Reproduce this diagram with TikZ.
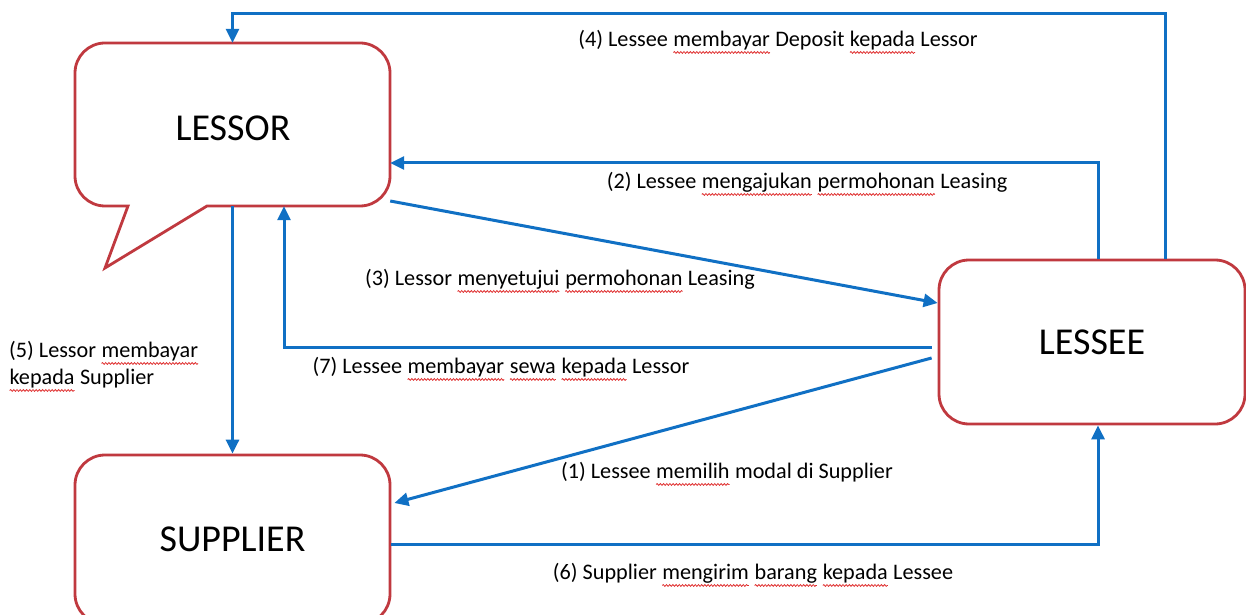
\documentclass[tikz,border=0pt]{standalone}
\usepackage{fontspec}
\setmainfont{Carlito}
\usetikzlibrary{arrows.meta,decorations.pathmorphing}
\definecolor{arrblue}{HTML}{1070C4}
\definecolor{boxred}{HTML}{C0393F}
\definecolor{wavered}{HTML}{E03030}
\newcommand\sq[1]{\tikz[baseline=(W.base)]{\node[inner sep=0pt,outer sep=0pt,draw=none,fill=none](W){#1};\draw[wavered,line width=0.8pt,decorate,decoration={snake,amplitude=0.9pt,segment length=3.2pt}]([yshift=-6pt]W.base west)--([yshift=-6pt]W.base east);}}
\begin{document}
\begin{tikzpicture}[x=1pt,y=1pt,
  box/.style={draw=boxred,line width=2.8pt,rounded corners=30pt,fill=white,font=\fontsize{38}{40}\selectfont},
  arr/.style={draw=arrblue,line width=3pt,-{Triangle[length=14pt,width=13pt]}},
  lbl/.style={font=\fontsize{22.2}{27}\selectfont,inner sep=0pt}]
\useasboundingbox[fill=white] (0,0) rectangle (1246,614);
% LESSOR callout
\draw[draw=boxred,line width=2.8pt,fill=white,line join=miter]
  (207,408) -- (360,408) arc[start angle=-90,end angle=0,radius=30]
  -- (390,541) arc[start angle=0,end angle=90,radius=30]
  -- (105,571) arc[start angle=90,end angle=180,radius=30]
  -- (75,438) arc[start angle=180,end angle=270,radius=30]
  -- (128,408) -- (105,346) -- cycle;
\node[minimum width=315pt,minimum height=163pt,inner sep=0pt] (lessor) at (232.5,489.5) {};
\node[font=\fontsize{38}{40}\selectfont] (lessortxt) at (233,486) {LESSOR};
\node[box,minimum width=306pt,minimum height=164pt] (lessee) at (1092,272) {LESSEE};
\node[box,minimum width=315pt,minimum height=169pt] (supplier) at (232.5,74.5) {SUPPLIER};
% connectors
\draw[arr] ([xshift=73pt]lessee.north) -- ++(0,245) -| (lessor.north);
\draw[arr] ([xshift=6pt]lessee.north) |- ([yshift=-38.5pt]lessor.east);
\draw[arr] ([yshift=-76.5pt]lessor.east) -- ([yshift=39pt]lessee.west);
\draw[arr] ([xshift=-6pt,yshift=-5pt]lessee.west) -| ([xshift=51.5pt]lessor.south);
\draw[arr] ([xshift=-6pt,yshift=-16pt]lessee.west) -- ([xshift=3pt,yshift=36.5pt]supplier.east);
\draw[arr] (lessor.south) -- (supplier.north);
\draw[arr] ([yshift=-4.5pt]supplier.east) -| ([xshift=6pt]lessee.south);
% labels
\node[lbl] (l4) at (778,572) {(4) Lessee \sq{membayar} Deposit \sq{kepada} Lessor};
\node[lbl] (l2) at (807,430) {(2) Lessee \sq{mengajukan} \sq{permohonan} Leasing};
\node[lbl] (l3) at (560,333) {(3) Lessor \sq{menyetujui} \sq{permohonan} Leasing};
\node[lbl] (l7) at (501,245) {(7) Lessee \sq{membayar} \sq{sewa} \sq{kepada} Lessor};
\node[lbl] (l1) at (727,140) {(1) Lessee \sq{memilih} modal di Supplier};
\node[lbl] (l6) at (753,39) {(6) Supplier \sq{mengirim} \sq{barang} \sq{kepada} Lessee};
\node[lbl,anchor=west,align=left] (l5) at (9,247.5) {(5) Lessor \sq{membayar}\\\sq{kepada} Supplier};
\end{tikzpicture}
\end{document}
